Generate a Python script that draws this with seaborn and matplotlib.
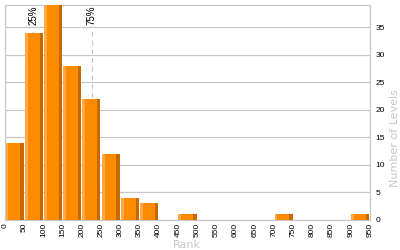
import matplotlib
matplotlib.use("Agg")
import matplotlib.pyplot as plt
import seaborn as sns
import numpy as np

# data
bin_edges = list(range(0, 1000, 50))          # 0..950
counts = [14, 34, 39, 28, 22, 12, 4, 3, 0, 1, 0, 0, 0, 0, 1, 0, 0, 0, 1]
tick_labels = [str(v) for v in bin_edges]
pct_labels = ["25%", "75%"]
pct_values = [74, 226]

sns.set_style("white")
plt.rcParams['font.family'] = ['Liberation Sans', 'DejaVu Sans']

fig = plt.figure(figsize=(4, 2.5), dpi=100)
ax = fig.add_axes([5/400, 30/250, 365/400, 215/250])

centers = [e + 25 for e in bin_edges[:-1]]
sns.histplot(x=centers, weights=counts, bins=bin_edges, shrink=0.94,
             color="#FF8C00", edgecolor="none", alpha=1, ax=ax, zorder=3)

lefts = np.array(bin_edges[:-1], dtype=float)
ax.bar(lefts + 1.5, counts, width=7.5, align="edge", color="#FFA845",
       edgecolor="none", zorder=4)
ax.bar(lefts + 48.5 - 8.5, counts, width=8.5, align="edge", color="#C66A00",
       edgecolor="none", zorder=4)

grid_c = "#C8C8C8"
for v, lab in zip(pct_values, pct_labels):
    ax.axvline(v, ymin=0, ymax=0.885, color=grid_c, lw=0.9, ls=(0, (4, 3)), zorder=1)
    ax.text(v, 38.9, lab, rotation=90, ha="center", va="top", fontsize=7,
            color="black", zorder=5)

ax.set_xlim(0, 950)
ax.set_ylim(0, 39)
ax.set_xticks(bin_edges)
ax.set_xticklabels(tick_labels, rotation=90, fontsize=6)
ax.set_yticks(range(0, 40, 5))
ax.yaxis.tick_right()
ax.tick_params(axis="y", length=0, pad=4, labelsize=6, colors="black")
ax.tick_params(axis="x", length=0, pad=2, labelsize=6, colors="black")
ax.grid(axis="y", color=grid_c, lw=0.9, zorder=0)
ax.set_axisbelow(True)
for s in ax.spines.values():
    s.set_color(grid_c)
    s.set_linewidth(0.9)
ax.set_xlabel("")
ax.set_ylabel("")

fig.text(187/400, 2/250, "Rank", fontsize=8, color=grid_c, ha="center",
         va="baseline", family="DejaVu Sans")
fig.text(0.999, (250 - 138.5)/250, "Number of Levels", fontsize=8, color=grid_c,
         rotation=90, ha="right", va="center", family="DejaVu Sans")

fig.savefig("out.png", dpi=100)
